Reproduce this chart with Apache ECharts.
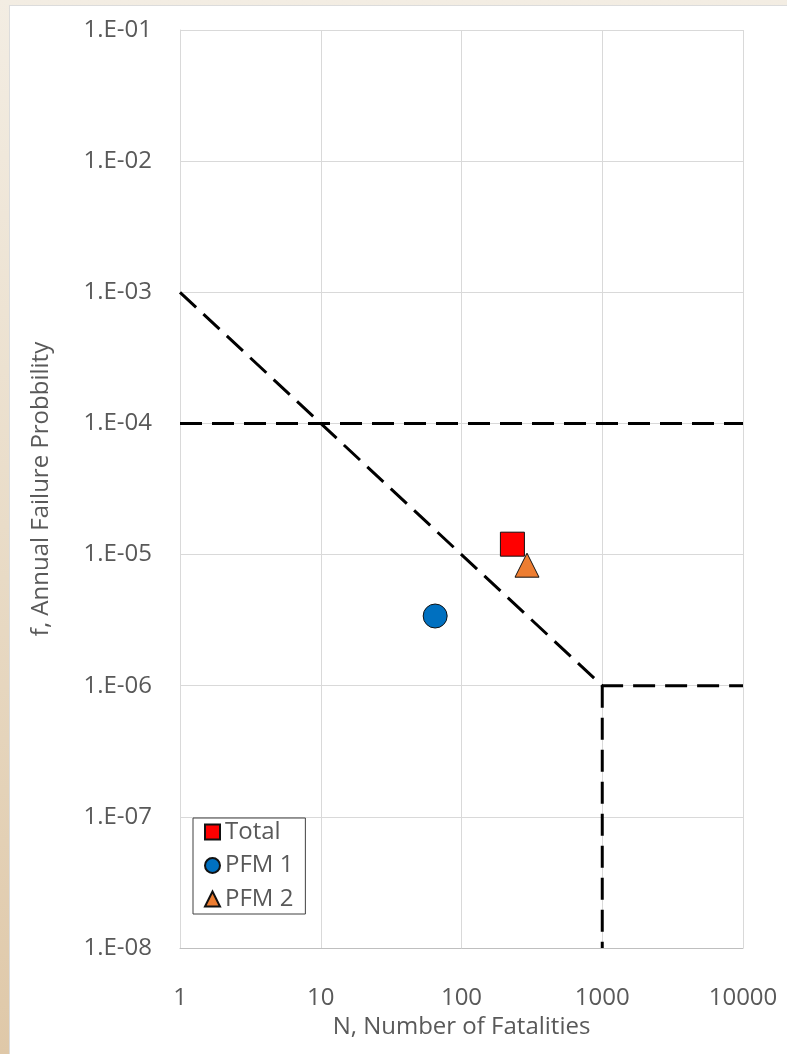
<!DOCTYPE html>
<html>
<head>
<meta charset="utf-8">
<title>F-N Chart</title>
<script src="https://cdn.jsdelivr.net/npm/echarts@6/dist/echarts.min.js"></script>
<style>
  html, body { margin: 0; padding: 0; width: 787px; height: 1054px; overflow: hidden; }
  body { background: linear-gradient(180deg, #f3ede3 0%, #e9dcc8 50%, #dfc8a8 100%); position: relative; }
  #sheet { position: absolute; left: 9px; top: 5px; right: 0; bottom: 0; background: #ffffff;
           border-left: 1px solid #dcdcdc; border-top: 1px solid #dcdcdc; }
  #chart { position: absolute; left: 0; top: 0; width: 787px; height: 1054px; }
</style>
</head>
<body>
<div id="sheet"></div>
<div id="chart"></div>
<script>
// Failure modes: N (fatalities) and f (annual failure probability)
const seriesNames = ['Total', 'PFM 1', 'PFM 2'];
const fatalities = [230, 65, 292];
const probabilities = [1.2e-5, 3.4e-6, 8.3e-6];
const markerColors = ['#ff0000', '#0070c0', '#ed7d31'];
const markerSymbols = ['rect', 'circle', 'triangle'];

// Tolerability guideline lines
const limitDiagonal = [[1, 1e-3], [1000, 1e-6], [10000, 1e-6]];
const limitVertical = [[1000, 1e-6], [1000, 1e-8]];
const limitHorizontal = [[1, 1e-4], [10000, 1e-4]];

// Axis ranges and tick labels
const xRange = [1, 10000];
const yRange = [1e-8, 1e-1];
const xTickLabels = { 1: '1', 10: '10', 100: '100', 1000: '1000', 10000: '10000' };
const yTickLabels = { '-1': '1.E-01', '-2': '1.E-02', '-3': '1.E-03', '-4': '1.E-04',
                      '-5': '1.E-05', '-6': '1.E-06', '-7': '1.E-07', '-8': '1.E-08' };

const FONT = "'Open Sans', 'Noto Sans', sans-serif";
const TEXT = '#595959';
const SIZE = 24;

const chart = echarts.init(document.getElementById('chart'), null, { renderer: 'canvas' });

const dashLine = (name, data) => ({
  name: name,
  type: 'line',
  data: data,
  symbol: 'none',
  silent: true,
  z: 2,
  lineStyle: { color: '#000000', width: 3, type: [22, 10] }
});

const scatterSeries = seriesNames.map((name, i) => ({
  name: name,
  type: 'scatter',
  data: [[fatalities[i], probabilities[i]]],
  symbol: markerSymbols[i],
  symbolSize: 24,
  z: 5,
  itemStyle: { color: markerColors[i], borderColor: '#111111', borderWidth: 1, opacity: 1 }
}));

chart.setOption({
  animation: false,
  grid: { left: 180, right: 44, top: 30, bottom: 106, containLabel: false },
  xAxis: {
    type: 'log',
    logBase: 10,
    min: xRange[0],
    max: xRange[1],
    name: 'N, Number of Fatalities',
    nameLocation: 'middle',
    nameGap: 66,
    nameTextStyle: { fontFamily: FONT, fontSize: SIZE, color: TEXT },
    axisLine: { show: true, lineStyle: { color: '#bfbfbf', width: 1 } },
    axisTick: { show: false },
    axisLabel: {
      margin: 38,
      fontFamily: FONT, fontSize: SIZE, color: TEXT,
      formatter: v => xTickLabels[Math.round(v)] || ''
    },
    splitLine: { show: true, lineStyle: { color: '#d9d9d9', width: 1 } }
  },
  yAxis: {
    type: 'log',
    logBase: 10,
    min: yRange[0],
    max: yRange[1],
    name: 'f, Annual Failure Probbility',
    nameLocation: 'middle',
    nameGap: 127,
    nameRotate: 90,
    nameTextStyle: { fontFamily: FONT, fontSize: SIZE, color: TEXT },
    axisLine: { show: true, lineStyle: { color: '#d9d9d9', width: 1 } },
    axisTick: { show: false },
    axisLabel: {
      margin: 28,
      fontFamily: FONT, fontSize: SIZE, color: TEXT,
      formatter: v => yTickLabels[String(Math.round(Math.log10(v)))] || ''
    },
    splitLine: { show: true, lineStyle: { color: '#d9d9d9', width: 1 } }
  },
  legend: {
    data: seriesNames,
    orient: 'vertical',
    left: 193,
    top: 818,
    padding: [2, 12, 3, 11],
    itemGap: 9.5,
    itemWidth: 15,
    itemHeight: 15,
    backgroundColor: '#ffffff',
    borderColor: '#404040',
    borderWidth: 1,
    textStyle: { fontFamily: FONT, fontSize: SIZE, lineHeight: 22, color: TEXT }
  },
  series: [
    dashLine('limit-diagonal', limitDiagonal),
    dashLine('limit-vertical', limitVertical),
    dashLine('limit-horizontal', limitHorizontal),
    ...scatterSeries
  ]
});
</script>
</body>
</html>
